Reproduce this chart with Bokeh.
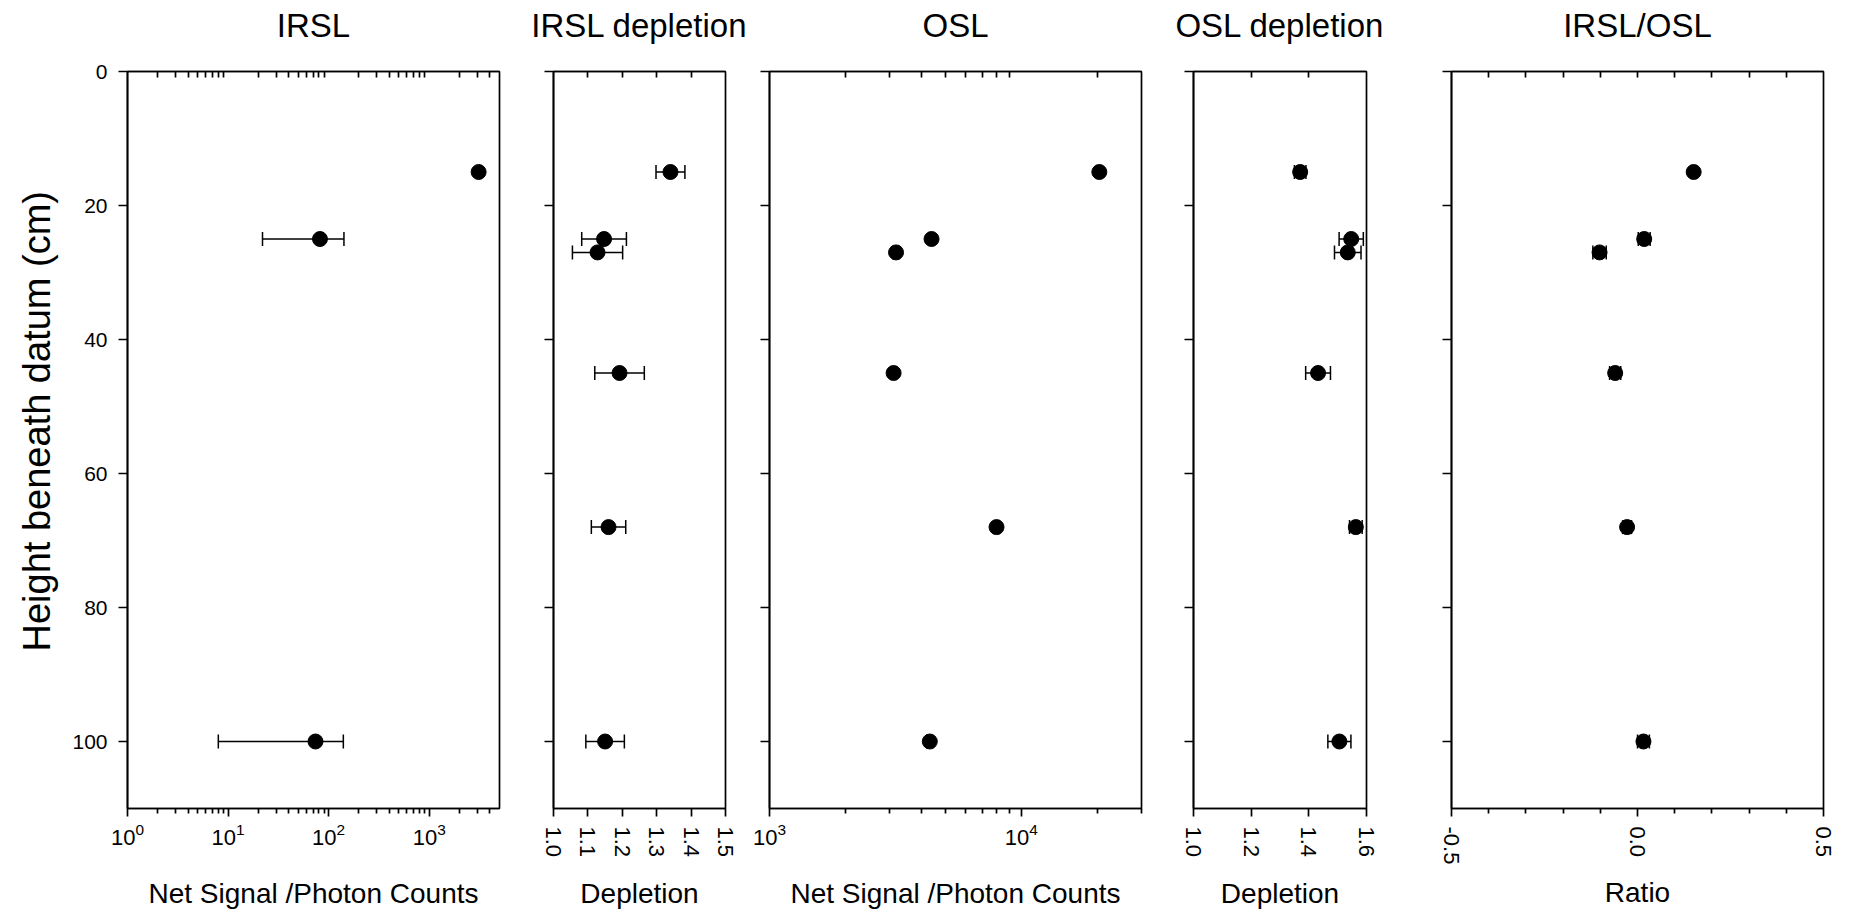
from bokeh.plotting import figure
from bokeh.models import (Range1d, FixedTicker, LinearAxis, LogAxis, Whisker,
                          ColumnDataSource, TeeHead, LogTickFormatter, Title,
                          NumeralTickFormatter)
from bokeh.layouts import row
from bokeh.embed import file_html
from bokeh.resources import INLINE

# ---------------- data ----------------
depth = [15, 25, 27, 45, 68, 100]

irsl_depth = [15, 25, 100]
irsl = [3100, 82, 74]
irsl_err = [100, 60, 66]

irsl_depl = [1.34, 1.147, 1.128, 1.192, 1.16, 1.15]
irsl_depl_err = [0.042, 0.065, 0.073, 0.072, 0.05, 0.056]

osl = [20400, 4400, 3180, 3110, 7970, 4330]
osl_err = [500, 110, 80, 80, 200, 110]

osl_depl = [1.37, 1.547, 1.535, 1.432, 1.563, 1.506]
osl_depl_err = [0.02, 0.042, 0.046, 0.043, 0.022, 0.04]

ratio = [0.151, 0.018, -0.102, -0.060, -0.028, 0.016]
ratio_err = [0.008, 0.016, 0.018, 0.015, 0.012, 0.016]

titles = ["IRSL", "IRSL depletion", "OSL", "OSL depletion", "IRSL/OSL"]
xlabels = ["Net Signal /Photon Counts", "Depletion", "Net Signal /Photon Counts",
           "Depletion", "Ratio"]
ylabel = "Height beneath datum (cm)"

y_ticks = [0, 20, 40, 60, 80, 100]

irsl_range = (1, 5000)
irsl_major = [1, 10, 100, 1000]
irsl_minor = [2, 3, 4, 5, 6, 7, 8, 9, 20, 30, 40, 50, 60, 70, 80, 90,
              200, 300, 400, 500, 600, 700, 800, 900, 2000, 3000, 4000]

idepl_range = (1.0, 1.5)
idepl_major = [1.0, 1.1, 1.2, 1.3, 1.4, 1.5]
idepl_top = [1.1, 1.2, 1.3, 1.4]

osl_range = (1000, 30000)
osl_major = [1000, 10000]
osl_minor = [2000, 3000, 4000, 5000, 6000, 7000, 8000, 9000, 20000, 30000]
osl_top = [2000, 3000, 4000, 5000, 6000, 7000, 8000, 9000, 20000]

odepl_range = (1.0, 1.6)
odepl_major = [1.0, 1.2, 1.4, 1.6]
odepl_top = [1.2, 1.4]

ratio_range = (-0.5, 0.5)
ratio_major = [-0.5, 0.0, 0.5]
ratio_minor = [-0.4, -0.3, -0.2, -0.1, 0.1, 0.2, 0.3, 0.4]
ratio_top = [-0.4, -0.3, -0.2, -0.1, 0.0, 0.1, 0.2, 0.3, 0.4]

# ---------------- style ----------------
FONT = "Liberation Sans"
FH = 737
TOP = 71
BOTTOM = 106
LW = 1.7


def panel(xr, log, frame_w, bl, br, title, xlabel, major, minor, top_minor,
          vertical, xlabel_standoff, first=False):
    p = figure(frame_width=frame_w, frame_height=FH,
               x_range=Range1d(*xr), y_range=Range1d(110, 0),
               x_axis_type="log" if log else "linear",
               output_backend="svg", toolbar_location=None,
               min_border_left=bl, min_border_right=br,
               min_border_top=TOP, min_border_bottom=BOTTOM,
               background_fill_color="white", border_fill_color="white")
    p.xgrid.visible = False
    p.ygrid.visible = False
    p.outline_line_color = "black"
    p.outline_line_width = LW
    p.outline_line_alpha = 1

    # bottom axis
    xa = p.xaxis[0]
    xa.ticker = FixedTicker(ticks=major, minor_ticks=minor)
    if log:
        xa.formatter = LogTickFormatter()
    else:
        xa.formatter = NumeralTickFormatter(format="0.0")
    xa.axis_line_width = LW
    xa.major_tick_line_width = LW
    xa.minor_tick_line_width = LW
    xa.major_tick_out = 8
    xa.major_tick_in = 0
    xa.minor_tick_out = 5
    xa.minor_tick_in = 0
    xa.major_label_text_font = FONT
    xa.major_label_text_font_size = "22px"
    xa.major_label_text_color = "black"
    xa.major_label_standoff = 10 if vertical else 6
    if vertical:
        xa.major_label_orientation = "vertical"
    xa.axis_label = xlabel
    xa.axis_label_text_font = FONT
    xa.axis_label_text_font_size = "28px"
    xa.axis_label_text_font_style = "normal"
    xa.axis_label_text_color = "black"
    xa.axis_label_standoff = xlabel_standoff

    # left axis
    ya = p.yaxis[0]
    ya.axis_line_width = LW
    ya.major_tick_line_width = LW
    ya.minor_tick_line_width = LW
    if first:
        ya.ticker = FixedTicker(ticks=y_ticks)
        ya.major_tick_out = 9
        ya.major_tick_in = 0
        ya.major_label_text_font = FONT
        ya.major_label_text_font_size = "21px"
        ya.major_label_text_color = "black"
        ya.major_label_standoff = 11
    else:
        ya.ticker = FixedTicker(ticks=[], minor_ticks=y_ticks)
        ya.minor_tick_out = 9
        ya.minor_tick_in = 0

    # top axis: inward minor ticks, carries the panel title
    Ax = LogAxis if log else LinearAxis
    top = Ax(ticker=FixedTicker(ticks=[], minor_ticks=top_minor))
    top.axis_line_width = LW
    top.minor_tick_line_width = LW
    top.major_tick_in = 0
    top.major_tick_out = 0
    top.minor_tick_in = 6
    top.minor_tick_out = 0
    top.major_label_standoff = 0
    top.axis_label = title
    top.axis_label_text_font = FONT
    top.axis_label_text_font_size = "33px"
    top.axis_label_text_font_style = "normal"
    top.axis_label_text_color = "black"
    top.axis_label_standoff = 28
    p.add_layout(top, "above")

    if first:
        t = Title(text=ylabel, align="left", offset=157, standoff=24,
                  vertical_align="bottom", text_font=FONT,
                  text_font_size="38px", text_font_style="normal",
                  text_color="black")
        p.add_layout(t, "left")
    return p


def add_points(p, x, y, err):
    src = ColumnDataSource(dict(x=x, y=y,
                                lo=[a - e for a, e in zip(x, err)],
                                hi=[a + e for a, e in zip(x, err)]))
    w = Whisker(source=src, base="y", lower="lo", upper="hi", dimension="width",
                line_color="black", line_width=1.5,
                upper_head=TeeHead(size=14, line_color="black", line_width=1.5),
                lower_head=TeeHead(size=14, line_color="black", line_width=1.5))
    p.add_layout(w)
    p.scatter("x", "y", source=src, size=15, fill_color="black",
              line_color="black")


p1 = panel(irsl_range, True, 372, 127, 27, titles[0], xlabels[0],
           irsl_major, irsl_minor, irsl_minor, False, 30, first=True)
add_points(p1, irsl, irsl_depth, irsl_err)

p2 = panel(idepl_range, False, 172, 27, 25, titles[1], xlabels[1],
           idepl_major, [], idepl_top, True, 18)
add_points(p2, irsl_depl, depth, irsl_depl_err)

p3 = panel(osl_range, True, 372, 19, 26, titles[2], xlabels[2],
           osl_major, osl_minor, osl_top, False, 30)
add_points(p3, osl, depth, osl_err)

p4 = panel(odepl_range, False, 173, 26, 30, titles[3], xlabels[3],
           odepl_major, [], odepl_top, True, 18)
add_points(p4, osl_depl, depth, osl_depl_err)

p5 = panel(ratio_range, False, 372, 55, 24, titles[4], xlabels[4],
           ratio_major, ratio_minor, ratio_top, True, 10)
add_points(p5, ratio, depth, ratio_err)

layout = row(p1, p2, p3, p4, p5, spacing=0)

open("out.html", "w").write(file_html(layout, INLINE))
